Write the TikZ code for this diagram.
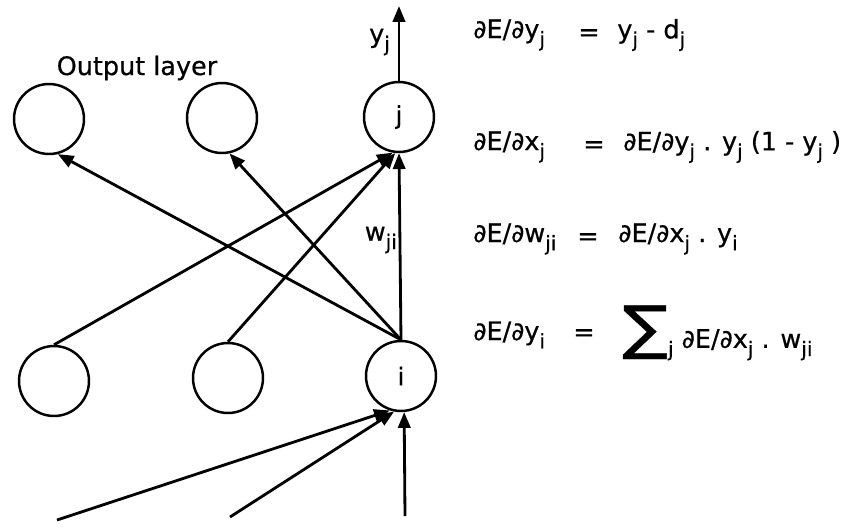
\documentclass[tikz,border=0pt]{standalone}
\usepackage{fontspec}
\usepackage{graphicx}
\setmainfont[FakeBold=0.6]{DejaVu Sans}
\usetikzlibrary{arrows.meta}
\newcommand{\lowsub}[1]{\raisebox{-0.6ex}{\fontsize{11.5}{11.5}\selectfont #1}}

\begin{document}
\begin{tikzpicture}[
  x=0.02cm, y=-0.02cm,
  unit/.style={draw, circle, line width=1.4pt, minimum size=1.4cm, inner sep=0pt, font=\fontsize{14}{14}\selectfont},
  conn/.style={line width=1.6pt, -{Triangle[length=9pt, width=7pt]}},
  eqn/.style={font=\fontsize{14.5}{16}\selectfont, inner sep=0pt},
  lbl/.style={font=\fontsize{14.5}{16}\selectfont, inner sep=1pt}
]
  \useasboundingbox (0,0) rectangle (850,529);

  %% Output layer
  \node[lbl] (title) at (137,68) {Output layer};
  \node[unit] (o1) at (49,119) {};
  \node[unit] (o2) at (222,118) {};
  \node[unit] (j)  at (399,117) {j};

  %% Hidden layer
  \node[unit] (h1) at (54,381) {};
  \node[unit] (h2) at (228,378) {};
  \node[unit] (i)  at (401,376) {i};

  %% Free ends
  \coordinate (top) at (399,6);
  \coordinate (in1) at (57,520);
  \coordinate (in2) at (230,517);
  \coordinate (in3) at (405,516);

  %% Connectors
  \draw[conn] (j.north) -- (top);
  \draw[conn] (i.north) -- (o1.-76);
  \draw[conn] (i.north) -- (o2.-78);
  \draw[conn] (i.north) -- (j.south);
  \draw[conn] (h1.north) -- (j.-100);
  \draw[conn] (h2.north) -- (j.-96);
  \draw[conn] (in1) -- (i.-108);
  \draw[conn] (in2) -- (i.-101);
  \draw[conn] (in3) -- (i.-85);

  \node[lbl, anchor=east] (yj) at (392,42) {y\lowsub{j}};
  \node[lbl, anchor=east] (wji) at (399,240) {w\lowsub{ji}};

  %% Equations
  \node[eqn, anchor=west] (l1) at (473,35) {∂E/∂y\lowsub{j}};
  \node[eqn] (e1) at (589,35) {=};
  \node[eqn, anchor=west] (r1) at (617,35) {y\lowsub{j} - d\lowsub{j}};

  \node[eqn, anchor=west] (l2) at (473,147) {∂E/∂x\lowsub{j}};
  \node[eqn] (e2) at (594,147) {=};
  \node[eqn, anchor=west] (r2) at (623,147) {∂E/∂y\lowsub{j} . y\lowsub{j} (1 - y\lowsub{j} )};

  \node[eqn, anchor=west] (l3) at (473,239) {∂E/∂w\lowsub{ji}};
  \node[eqn] (e3) at (588,239) {=};
  \node[eqn, anchor=west] (r3) at (618,239) {∂E/∂x\lowsub{j} . y\lowsub{i}};

  \node[eqn, anchor=west] (l4) at (473,335) {∂E/∂y\lowsub{i}};
  \node[eqn] (e4) at (584,335) {=};
  \node[eqn, anchor=west] (r4) at (622,333) {\resizebox{26pt}{24pt}{∑}\lowsub{j} ∂E/∂x\lowsub{j} . w\lowsub{ji}};
\end{tikzpicture}
\end{document}
